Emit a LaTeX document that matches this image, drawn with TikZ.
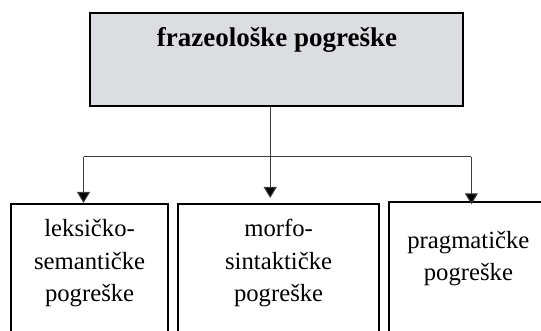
\documentclass[tikz,border=0pt]{standalone}
\usepackage{fontspec}
\setmainfont{Liberation Serif}
\usetikzlibrary{arrows.meta}
\definecolor{boxgray}{RGB}{220,221,224}
\definecolor{linegray}{RGB}{60,60,60}
\begin{document}
\begin{tikzpicture}[x=1pt,y=-1pt,
  box/.style={draw=black,line width=2pt,inner sep=0pt,rectangle},
  conn/.style={draw=linegray,line width=1.1pt},
  arr/.style={conn,-{Triangle[width=13pt,length=11pt,fill=black]}},
  lbl/.style={inner sep=0pt,anchor=base,font=\fontsize{24.7}{32.5}\selectfont}]
\useasboundingbox (0,0) rectangle (541,331);
\clip (0,0) rectangle (541,331);
% boxes
\node[box,fill=boxgray,minimum width=373pt,minimum height=93pt] (top) at (276.9,59.2) {};
\node[inner sep=0pt,anchor=base,font=\fontsize{27}{32}\selectfont\bfseries] (topT) at (276.9,46.7) {frazeološke pogreške};
\node[box,minimum width=157pt,minimum height=160pt] (ls) at (89.8,284) {};
\node[box,minimum width=200.7pt,minimum height=160pt] (ms) at (278.6,284) {};
\node[box,minimum width=158pt,minimum height=160pt] (pr) at (468.4,282.3) {};
% labels
\node[lbl] (lsT) at (89.6,236.7) {\begin{tabular}[t]{@{}c@{}}leksičko-\\semantičke\\pogreške\end{tabular}};
\node[lbl] (msT) at (278.6,236.7) {\begin{tabular}[t]{@{}c@{}}morfo-\\sintaktičke\\pogreške\end{tabular}};
\node[lbl] (prT) at (468.4,248.3) {\begin{tabular}[t]{@{}c@{}}pragmatičke\\pogreške\end{tabular}};
% connectors
\coordinate (hub) at (270.2,156.7);
\coordinate (cL) at (83.5,156.7);
\coordinate (cR) at (471.4,156.7);
\draw[conn] (top.south -| hub) -- (hub);
\draw[conn] (cL) -- (cR);
\draw[arr] (cL) -- (cL |- ls.north);
\draw[arr,shorten >=5pt] (hub) -- (hub |- ms.north);
\draw[arr,shorten >=-3pt] (cR) -- (cR |- pr.north);
\end{tikzpicture}
\end{document}
